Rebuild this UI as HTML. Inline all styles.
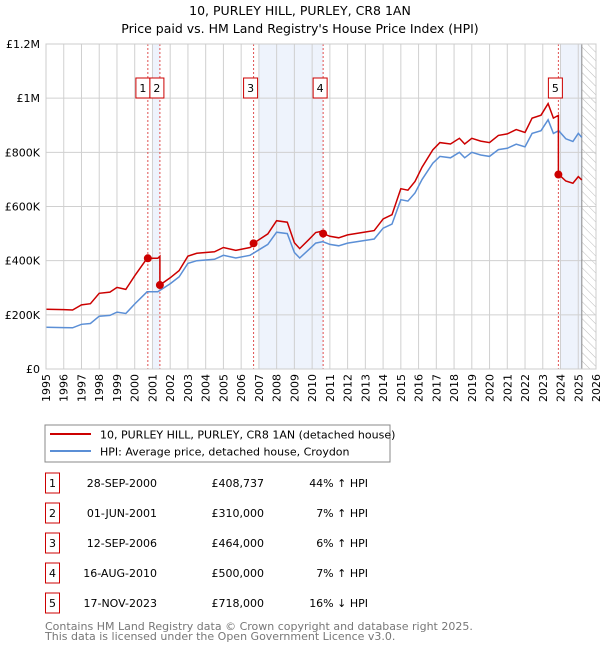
<!DOCTYPE html>
<html><head><meta charset="utf-8"><style>
body{margin:0;background:#fff;font-family:"Liberation Sans","DejaVu Sans",sans-serif;}
svg text{font-family:"DejaVu Sans","Liberation Sans",sans-serif;}
</style></head><body>
<svg id="c" width="600" height="650" xmlns="http://www.w3.org/2000/svg">
<text x="300" y="15" text-anchor="middle" font-size="12.5" fill="#000">10, PURLEY HILL, PURLEY, CR8 1AN</text>
<text x="300" y="33" text-anchor="middle" font-size="12.5" fill="#000">Price paid vs. HM Land Registry's House Price Index (HPI)</text>
<g id="plot"></g>
<rect x="45" y="425" width="345" height="37" fill="#fff" stroke="#888"/>
<line x1="50" y1="434" x2="91" y2="434" stroke="#cc0000" stroke-width="2"/>
<text x="100" y="438.5" font-size="11">10, PURLEY HILL, PURLEY, CR8 1AN (detached house)</text>
<line x1="50" y1="451" x2="91" y2="451" stroke="#5b8fd6" stroke-width="2"/>
<text x="100" y="455.5" font-size="11">HPI: Average price, detached house, Croydon</text>
<g id="tbl"></g>
<text x="45" y="630" font-size="11" fill="#777">Contains HM Land Registry data © Crown copyright and database right 2025.</text>
<text x="45" y="640" font-size="11" fill="#777">This data is licensed under the Open Government Licence v3.0.</text>
</svg>
<script>
const hpiYears=[1995,1996,1996.5,1997,1997.5,1998,1998.6,1999,1999.5,2000,2000.7,2001.3,2002,2002.5,2003,2003.5,2004.5,2005,2005.7,2006.5,2007,2007.5,2008,2008.6,2009,2009.3,2009.8,2010.2,2010.6,2011,2011.5,2012,2013,2013.5,2014,2014.5,2015,2015.4,2015.8,2016.2,2016.8,2017.2,2017.8,2018.3,2018.6,2019,2019.5,2020,2020.5,2021,2021.5,2022,2022.4,2022.9,2023.3,2023.6,2023.9,2024.3,2024.7,2025,2025.2];
const hpiValues=[154,153,152,165,168,195,198,210,205,240,285,285,315,340,390,400,405,420,410,420,440,460,505,500,430,410,440,465,470,460,455,465,475,480,520,535,625,620,650,700,760,785,780,800,780,800,790,785,810,815,830,820,870,880,920,870,880,850,840,870,855];
const saleDates=[2000.74,2001.42,2006.70,2010.62,2023.88];
const salePrices=[408737,310000,464000,500000,718000];
const saleLabels=["28-SEP-2000","01-JUN-2001","12-SEP-2006","16-AUG-2010","17-NOV-2023"];
const salePriceText=["£408,737","£310,000","£464,000","£500,000","£718,000"];
const saleHpiText=["44% ↑ HPI","7% ↑ HPI","6% ↑ HPI","7% ↑ HPI","16% ↓ HPI"];
const yTicks=[0,200000,400000,600000,800000,1000000,1200000];
const yTickLabels=["£0","£200K","£400K","£600K","£800K","£1M","£1.2M"];
const shadeRanges=[[2001.0,2001.42],[2007.0,2010.62],[2024.0,2025.2]];
const dataEnd=2025.2;

const NS="http://www.w3.org/2000/svg";
const X0=46,X1=596,Y0=369,Y1=44;
const xs=t=>X0+(t-1995)/(2026-1995)*(X1-X0);
const ys=v=>Y0-v/1200000*(Y0-Y1);
const plot=document.getElementById('plot');
function mk(tag,attrs,parent){const e=document.createElementNS(NS,tag);for(const k in attrs)e.setAttribute(k,attrs[k]);(parent||plot).appendChild(e);return e;}
function hpiAt(t){for(let i=0;i<hpiYears.length-1;i++){if(t>=hpiYears[i]&&t<=hpiYears[i+1]){const f=(t-hpiYears[i])/(hpiYears[i+1]-hpiYears[i]);return (hpiValues[i]+f*(hpiValues[i+1]-hpiValues[i]))*1000;}}return hpiValues[hpiValues.length-1]*1000;}

shadeRanges.forEach((r,i)=>{const e=mk('rect',{x:xs(r[0]),y:Y1,width:xs(r[1])-xs(r[0]),height:Y0-Y1,fill:'#eef3fc'});

});
const defs=mk('defs',{});
const pat=mk('pattern',{id:'h',width:6,height:6,patternUnits:'userSpaceOnUse',patternTransform:'rotate(-45)'},defs);
mk('line',{x1:0,y1:0,x2:0,y2:6,stroke:'#bbb','stroke-width':1},pat);
const hz=mk('rect',{x:xs(dataEnd),y:Y1,width:X1-xs(dataEnd),height:Y0-Y1,fill:'url(#h)'});


for(let yr=1995;yr<=2026;yr++){const g=mk('line',{x1:xs(yr),x2:xs(yr),y1:Y1,y2:Y0,stroke:'#d0d0d0','stroke-width':1});


const t=mk('text',{x:0,y:0,'font-size':11,'text-anchor':'end',transform:`translate(${xs(yr)+4},${Y0+5}) rotate(-90)`});t.textContent=yr;

}
yTicks.forEach((v,i)=>{const g=mk('line',{x1:X0,x2:X1,y1:ys(v),y2:ys(v),stroke:'#d0d0d0','stroke-width':1});


const t=mk('text',{x:X0-6,y:ys(v)+4,'font-size':11,'text-anchor':'end'});t.textContent=yTickLabels[i];

});
mk('line',{x1:xs(dataEnd),x2:xs(dataEnd),y1:Y1,y2:Y0,stroke:'#888','stroke-width':1});
saleDates.forEach((d,i)=>{const l=mk('line',{x1:xs(d),x2:xs(d),y1:Y1,y2:Y0,stroke:'#e05050','stroke-width':1,'stroke-dasharray':'2,2'});

});
let p='';hpiYears.forEach((t,i)=>{p+=(i?'L':'M')+xs(t).toFixed(1)+','+ys(hpiValues[i]*1000).toFixed(1);});
const hl=mk('path',{d:p,fill:'none',stroke:'#5b8fd6','stroke-width':1.5});


const ratios=saleDates.map((d,i)=>salePrices[i]/hpiAt(d));
const ts=[...hpiYears,...saleDates].sort((a,b)=>a-b);
let rp='';let first=true;
function ratioAt(t,before){let r=ratios[0];for(let i=0;i<saleDates.length;i++){if(before?t>saleDates[i]:t>=saleDates[i])r=ratios[i];}return r;}
ts.forEach(t=>{const h=hpiAt(t);
if(saleDates.includes(t)){rp+=(first?'M':'L')+xs(t).toFixed(1)+','+ys(h*ratioAt(t,true)).toFixed(1);first=false;}
rp+=(first?'M':'L')+xs(t).toFixed(1)+','+ys(h*ratioAt(t,false)).toFixed(1);first=false;});
const pl=mk('path',{d:rp,fill:'none',stroke:'#cc0000','stroke-width':1.5});


saleDates.forEach((d,i)=>{const c=mk('circle',{cx:xs(d),cy:ys(salePrices[i]),r:4,fill:'#cc0000'});


let bx=xs(d)-10;
if(i===0)bx=xs(saleDates[1])-24;if(i===1)bx=xs(saleDates[1])-10;
const b=mk('rect',{x:bx,y:78,width:14,height:20,fill:'#fff',stroke:'#cc0000','stroke-width':1});


const t=mk('text',{x:bx+7,y:92,'font-size':11,'text-anchor':'middle'});t.textContent=i+1;

});
mk('rect',{x:X0,y:Y1,width:X1-X0,height:Y0-Y1,fill:'none',stroke:'#ccc'});
const tbl=document.getElementById('tbl');
saleDates.forEach((d,i)=>{const y=482+i*30;
const b=mk('rect',{x:45.5,y:y-9,width:14,height:20,fill:'#fff',stroke:'#cc0000'},tbl);


const items=[[52.5,String(i+1),'middle'],[157,saleLabels[i],'end'],[264,salePriceText[i],'end'],[368,saleHpiText[i],'end']];
items.forEach((it,j)=>{const t=mk('text',{x:it[0],y:y+5,'font-size':11,'text-anchor':it[2]},tbl);t.textContent=it[1];

});});
</script>
</body></html>
